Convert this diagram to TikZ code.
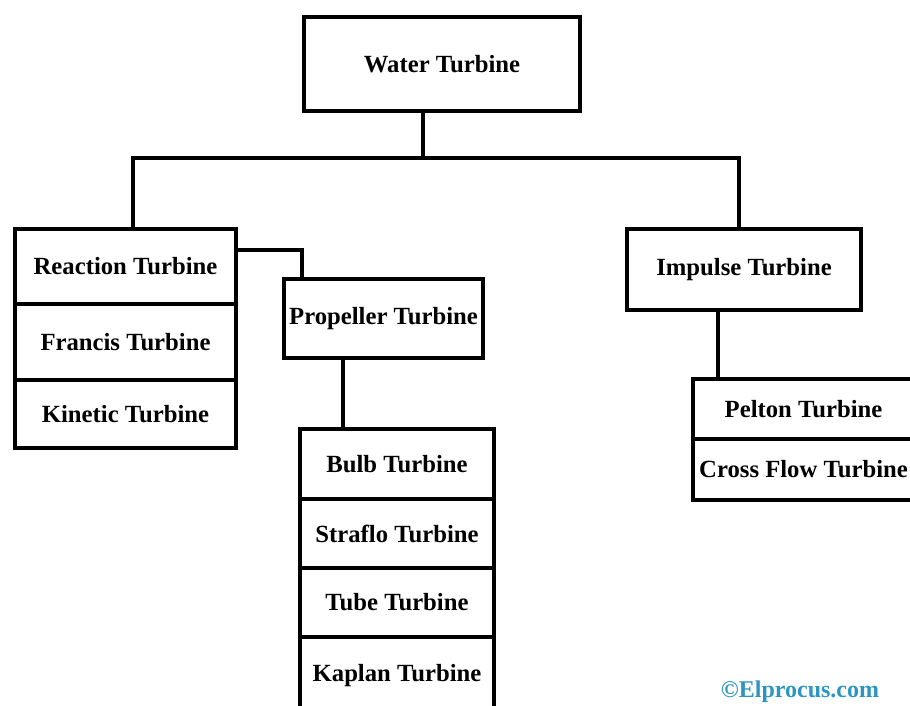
\documentclass[tikz,border=0pt]{standalone}
\usepackage{fontspec}
\setmainfont{Liberation Serif}
\usepackage{tikz}
\usetikzlibrary{positioning,calc}
\definecolor{elpblue}{RGB}{45,150,190}

\begin{document}
\begin{tikzpicture}[
  x=1pt, y=-1pt,
  node distance=0pt,
  box/.style={draw, line width=4.5pt, inner sep=0pt, outer sep=0pt, align=center,
    font=\bfseries\fontsize{24.7}{28}\selectfont},
  link/.style={line width=4pt}
]
\useasboundingbox (0,0) rectangle (910,705);
\clip (0,0) rectangle (910,705);

\node[box, minimum width=276pt, minimum height=94pt] (water) at (442,64) {Water Turbine};

\node[box, minimum width=221pt, minimum height=75pt] (reac) at (125.5,266.5) {Reaction Turbine};
\node[box, minimum width=221pt, minimum height=76pt, below=of reac] (fran) {Francis Turbine};
\node[box, minimum width=221pt, minimum height=68pt, below=of fran] (kin) {Kinetic Turbine};

\node[box, minimum width=199pt, minimum height=79pt] (prop) at (383.5,318.5) {Propeller Turbine};

\node[box, minimum width=194pt, minimum height=70pt] (bulb) at (397,464) {Bulb Turbine};
\node[box, minimum width=194pt, minimum height=69pt, below=of bulb] (stra) {Straflo Turbine};
\node[box, minimum width=194pt, minimum height=69pt, below=of stra] (tube) {Tube Turbine};
\node[box, minimum width=194pt, minimum height=78pt, below=of tube] (kap) {Kaplan Turbine};

\node[box, minimum width=234pt, minimum height=81pt] (imp) at (744,269.5) {Impulse Turbine};

\node[box, minimum width=221pt, minimum height=60pt] (pel) at (803.5,409) {Pelton Turbine};
\node[box, minimum width=221pt, minimum height=61pt, below=of pel] (cross) {Cross Flow Turbine};

\node[font=\bfseries\fontsize{24}{28}\selectfont, text=elpblue] (copy) at (800,692) {©Elprocus.com};

\coordinate (busL) at (133,158);
\coordinate (busM) at (423,158);
\coordinate (busR) at (739,158);

\draw[link] (water.south -| busM) -- (busM);
\draw[link] (reac.north -| busL) -- (busL) -- (busR) -- (imp.north -| busR);
\draw[link] ([yshift=-21pt]reac.north east) -| ([xshift=18pt]prop.north west);
\draw[link] ([xshift=-40.5pt]prop.south) -- ([xshift=-54pt]bulb.north);
\draw[link] ([xshift=-26pt]imp.south) -- ([xshift=-85.5pt]pel.north);
\end{tikzpicture}
\end{document}
